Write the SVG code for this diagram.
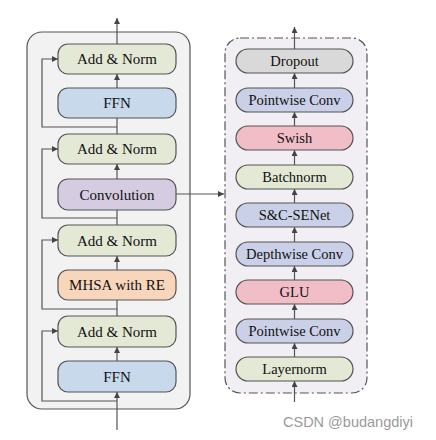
<svg xmlns="http://www.w3.org/2000/svg" width="436" height="440" viewBox="0 0 436 440">
<defs>
<marker id="ah" viewBox="0 0 8 8" refX="8" refY="4" markerWidth="6" markerHeight="6" orient="auto" markerUnits="userSpaceOnUse">
<path d="M0,0 L8,4 L0,8 Z" fill="#444"/>
</marker>
<style>
.n{stroke:#555;stroke-width:1.2}
.l{font-family:"Liberation Serif","Times New Roman",serif;font-size:15px;fill:#111;text-anchor:middle;dominant-baseline:central}
.r{font-family:"Liberation Serif","Times New Roman",serif;font-size:14.5px;fill:#111;text-anchor:middle;dominant-baseline:central}
.c{fill:none;stroke:#555;stroke-width:1.2}
.a{fill:none;stroke:#555;stroke-width:1.2;marker-end:url(#ah)}
.an{fill:#e3e9d5}.ffn{fill:#c7d9ea}.cv{fill:#d6cce1}.mh{fill:#f8d6bc}.dp{fill:#d9d9d9}.bl{fill:#c9d0e7}.pk{fill:#f1bec8}
</style>
</defs>
<rect width="436" height="440" fill="#fff"/>
<!-- containers -->
<g id="left-block"><rect x="27" y="32" width="163" height="377" rx="15" fill="#f2f2f2" stroke="#555" stroke-width="1.2"/></g>
<g id="right-block"><rect x="225" y="38" width="142" height="355" rx="15" fill="#f1eff4" stroke="#555" stroke-width="1.2" stroke-dasharray="9 3 2 3"/></g>
<!-- connectors -->
<g id="connectors">
<path class="a" d="M117,44 V18"/>
<path class="a" d="M117,88 V74"/>
<path class="a" d="M117,179 V164"/>
<path class="a" d="M117,270 V256"/>
<path class="a" d="M117,361 V347"/>
<path class="c" d="M117,134 V118"/>
<path class="c" d="M117,225 V210"/>
<path class="c" d="M117,316 V300"/>
<path class="a" d="M117,430 V392"/>
<path class="a" d="M117,401 H42 V331 H58"/>
<path class="a" d="M117,309 H42 V240 H58"/>
<path class="a" d="M117,218 H42 V149 H58"/>
<path class="a" d="M117,127 H42 V59 H58"/>
<path class="a" d="M176,194 H224"/>
<path class="a" d="M294.5,402 V381"/>
<path class="a" d="M294.5,357 V343"/>
<path class="a" d="M294.5,319 V304"/>
<path class="a" d="M294.5,280 V266"/>
<path class="a" d="M294.5,242 V227"/>
<path class="a" d="M294.5,203 V189"/>
<path class="a" d="M294.5,165 V150"/>
<path class="a" d="M294.5,126 V112"/>
<path class="a" d="M294.5,88 V73"/>
<path class="a" d="M294.5,49 V27"/>
</g>
<!-- left nodes -->
<g id="add-norm-1"><rect class="n an" x="58" y="44" width="118" height="30" rx="10"/><text class="l" x="117" y="59">Add &amp; Norm</text></g>
<g id="ffn-top"><rect class="n ffn" x="58" y="88" width="118" height="30" rx="10"/><text class="l" x="117" y="103">FFN</text></g>
<g id="add-norm-2"><rect class="n an" x="58" y="134" width="118" height="30" rx="10"/><text class="l" x="117" y="149">Add &amp; Norm</text></g>
<g id="convolution"><rect class="n cv" x="58" y="179" width="118" height="31" rx="10"/><text class="l" x="117" y="194.5">Convolution</text></g>
<g id="add-norm-3"><rect class="n an" x="58" y="225" width="118" height="31" rx="10"/><text class="l" x="117" y="240.5">Add &amp; Norm</text></g>
<g id="mhsa"><rect class="n mh" x="58" y="270" width="118" height="30" rx="10"/><text class="l" x="117" y="285">MHSA with RE</text></g>
<g id="add-norm-4"><rect class="n an" x="58" y="316" width="118" height="31" rx="10"/><text class="l" x="117" y="331.5">Add &amp; Norm</text></g>
<g id="ffn-bottom"><rect class="n ffn" x="58" y="361" width="118" height="31" rx="10"/><text class="l" x="117" y="376.5">FFN</text></g>
<!-- right nodes -->
<g id="dropout"><rect class="n dp" x="236" y="49" width="117" height="24" rx="12"/><text class="r" x="294.5" y="61">Dropout</text></g>
<g id="pointwise-2"><rect class="n bl" x="236" y="88" width="117" height="24" rx="12"/><text class="r" x="294.5" y="100">Pointwise Conv</text></g>
<g id="swish"><rect class="n pk" x="236" y="126" width="117" height="24" rx="12"/><text class="r" x="294.5" y="138">Swish</text></g>
<g id="batchnorm"><rect class="n an" x="236" y="165" width="117" height="24" rx="12"/><text class="r" x="294.5" y="177">Batchnorm</text></g>
<g id="senet"><rect class="n bl" x="236" y="203" width="117" height="24" rx="12"/><text class="r" x="294.5" y="215">S&amp;C-SENet</text></g>
<g id="depthwise"><rect class="n bl" x="236" y="242" width="117" height="24" rx="12"/><text class="r" x="294.5" y="254">Depthwise Conv</text></g>
<g id="glu"><rect class="n pk" x="236" y="280" width="117" height="24" rx="12"/><text class="r" x="294.5" y="292">GLU</text></g>
<g id="pointwise-1"><rect class="n bl" x="236" y="319" width="117" height="24" rx="12"/><text class="r" x="294.5" y="331">Pointwise Conv</text></g>
<g id="layernorm"><rect class="n an" x="236" y="357" width="117" height="24" rx="12"/><text class="r" x="294.5" y="369">Layernorm</text></g>
<text x="283" y="427" font-family="'Liberation Sans',Arial,sans-serif" font-size="14.5" fill="#9a9a9a">CSDN @budangdiyi</text>
</svg>
